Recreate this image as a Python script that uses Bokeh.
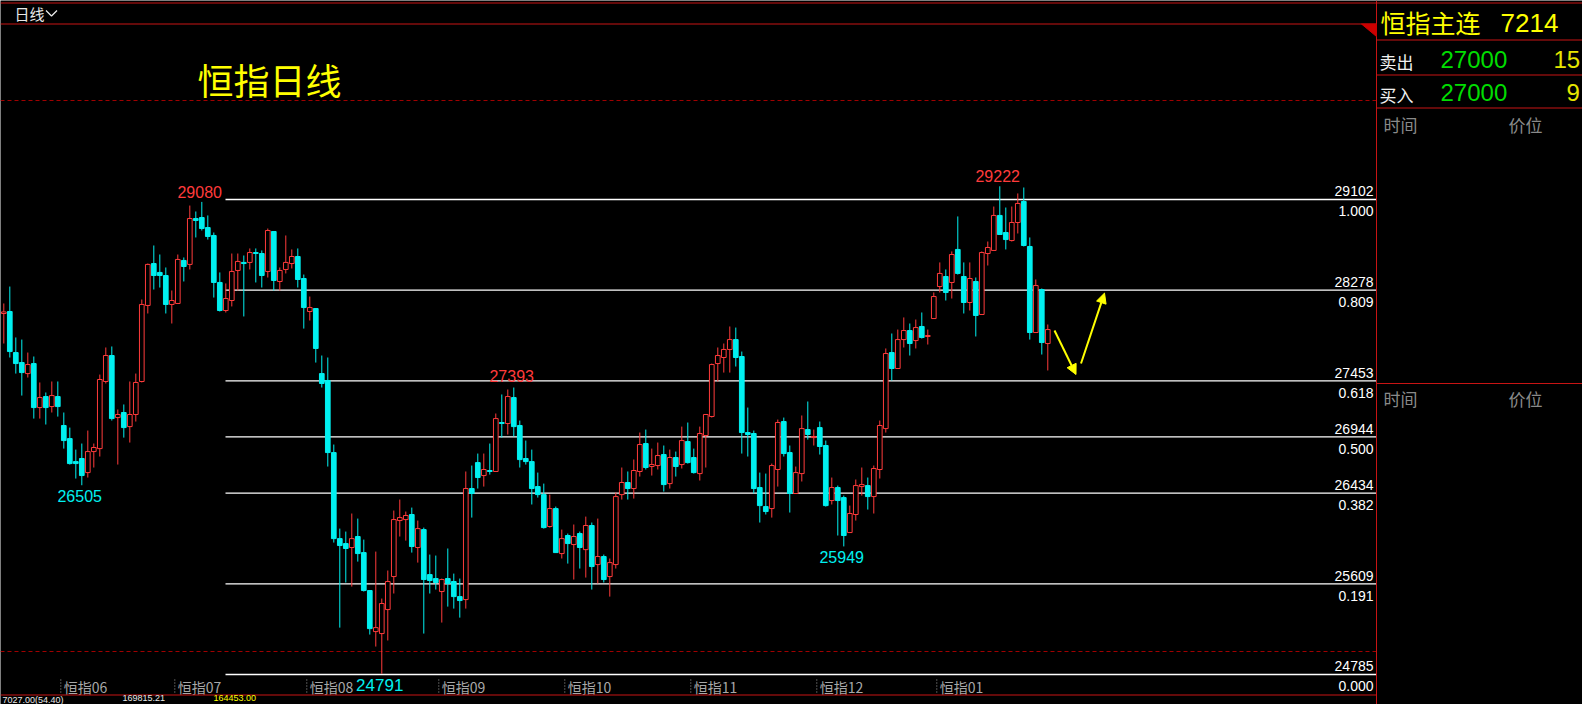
from bokeh.plotting import figure
from bokeh.models import Range1d, Arrow, NormalHead, ColumnDataSource
from bokeh.core.properties import value
from bokeh.embed import file_html
from bokeh.resources import INLINE

# ---------------- data ----------------
opens = [28066, 28084, 27711, 27620, 27520, 27611, 27211, 27311, 27220, 27311,
         27048, 26929, 26720, 26748, 26620, 26811, 26838, 27448, 27684, 27120,
         27166, 27038, 27148, 27448, 28139, 28520, 28439, 28411, 28148, 28157,
         28548, 28512, 28929, 28938, 28847, 28775, 28348, 28093, 28184, 28457,
         28530, 28530, 28620, 28611, 28448, 28811, 28357, 28466, 28520, 28584,
         28384, 28084, 28111, 27520, 27457, 26802, 26020, 25975, 25939, 26039,
         25893, 25548, 25175, 25157, 25375, 25675, 26184, 26193, 26239, 25939,
         26102, 25693, 25657, 25539, 25657, 25630, 25493, 25466, 26475, 26711,
         26593, 26639, 26630, 27075, 27066, 27302, 27048, 26748, 26720, 26493,
         26420, 26130, 26293, 25884, 26048, 25966, 26066, 25920, 26139, 25784,
         25857, 25675, 25784, 26420, 26530, 26475, 26630, 26884, 26675, 26684,
         26784, 26520, 26757, 26693, 26902, 26757, 26611, 26957, 27130, 27611,
         27666, 27739, 27829, 27675, 26984, 26975, 26484, 26311, 26293, 26648,
         27084, 26802, 26430, 26611, 27011, 26938, 27029, 26866, 26366, 26484,
         26393, 26075, 26239, 26493, 26502, 26402, 26648, 27020, 27711, 27566,
         27829, 27911, 27820, 27948, 27857, 28020, 28311, 28402, 28348, 28648,
         28402, 28166, 28357, 28057, 28611, 28639, 28957, 28802, 28729, 28893,
         29084, 28675, 27893, 28284, 27793]
highs = [28157, 28311, 27848, 27829, 27711, 27675, 27439, 27348, 27448, 27448,
         27166, 27029, 26829, 26884, 27002, 26884, 27511, 27757, 27766, 27193,
         27239, 27448, 27520, 28193, 28520, 28684, 28602, 28484, 28275, 28602,
         28575, 29047, 28993, 29080, 28957, 28802, 28439, 28339, 28611, 28611,
         28593, 28657, 28657, 28639, 28838, 28811, 28484, 28775, 28648, 28657,
         28420, 28220, 28111, 27684, 27666, 26875, 26111, 26084, 26248, 26202,
         26011, 25548, 25902, 25475, 25730, 26275, 26375, 26266, 26302, 26184,
         26120, 25875, 25866, 25657, 25930, 25702, 25657, 26630, 26684, 26793,
         26793, 26884, 27157, 27330, 27375, 27393, 27093, 26911, 26829, 26620,
         26520, 26420, 26311, 26102, 26066, 26148, 26084, 26220, 26166, 26202,
         25875, 25839, 26439, 26666, 26630, 26739, 26984, 27011, 26838, 26893,
         26866, 26829, 26811, 27038, 27075, 26838, 27038, 27148, 27611, 27757,
         27793, 27948, 27938, 27720, 27211, 27002, 26620, 26611, 26702, 27102,
         27120, 26866, 26675, 27139, 27266, 27011, 27084, 26911, 26575, 26502,
         26411, 26320, 26557, 26666, 26575, 26684, 27093, 27748, 27884, 27920,
         28030, 27975, 28011, 28075, 27920, 28257, 28530, 28466, 28630, 28948,
         28530, 28530, 28393, 28630, 28720, 29038, 29222, 29029, 29038, 29157,
         29211, 28757, 28375, 28293, 27966]
lows = [27793, 27666, 27520, 27320, 27484, 27111, 27111, 27057, 27166, 27129,
        26838, 26693, 26566, 26505, 26575, 26666, 26766, 27430, 27093, 26693,
        26938, 26893, 27084, 27439, 28066, 28284, 28302, 28066, 27975, 28157,
        28357, 28466, 28757, 28820, 28738, 28211, 28084, 28075, 28130, 28275,
        28039, 28466, 28348, 28302, 28393, 28275, 28275, 28430, 28475, 28302,
        27929, 28002, 27620, 27393, 26675, 25984, 25211, 25621, 25584, 25811,
        25539, 25148, 25039, 24791, 25094, 25521, 26039, 26002, 25893, 25802,
        25157, 25521, 25557, 25257, 25402, 25384, 25302, 25384, 26211, 26475,
        26493, 26602, 26630, 26938, 26966, 26948, 26666, 26693, 26330, 26393,
        26111, 26120, 25893, 25839, 25793, 25648, 25748, 25666, 25557, 25612,
        25621, 25493, 25748, 26375, 26375, 26384, 26584, 26648, 26593, 26648,
        26448, 26475, 26584, 26657, 26702, 26611, 26548, 26666, 27120, 27448,
        27529, 27529, 27584, 26793, 26766, 26430, 26166, 26239, 26211, 26493,
        26766, 26257, 26430, 26539, 26920, 26866, 26784, 26311, 26330, 26048,
        25949, 26075, 26184, 26411, 26284, 26248, 26566, 26984, 27457, 27566,
        27757, 27684, 27748, 27838, 27784, 28020, 28257, 28184, 28202, 28420,
        28066, 28093, 27857, 28057, 28502, 28639, 28784, 28648, 28720, 28793,
        28675, 27829, 27893, 27693, 27548]
closes = [28080, 27720, 27611, 27529, 27602, 27211, 27302, 27211, 27320, 27220,
          26911, 26702, 26702, 26593, 26811, 26848, 27466, 27684, 27111, 27148,
          27029, 27148, 27439, 28148, 28512, 28411, 28411, 28148, 28184, 28557,
          28493, 28929, 28911, 28838, 28766, 28348, 28093, 28202, 28448, 28539,
          28520, 28620, 28611, 28411, 28820, 28366, 28457, 28530, 28584, 28375,
          28120, 28120, 27748, 27430, 26802, 26020, 25957, 25930, 26020, 25884,
          25548, 25202, 25211, 25430, 25630, 26193, 26211, 26230, 25948, 26111,
          25648, 25639, 25621, 25648, 25612, 25493, 25457, 26475, 26430, 26575,
          26648, 26630, 27111, 27066, 27311, 27038, 26738, 26720, 26475, 26420,
          26120, 26293, 25893, 26020, 25975, 26039, 25939, 26139, 25766, 25857,
          25648, 25802, 26402, 26530, 26475, 26639, 26875, 26666, 26693, 26775,
          26511, 26757, 26675, 26911, 26711, 26620, 26975, 27148, 27602, 27684,
          27739, 27829, 27666, 26984, 26966, 26475, 26320, 26266, 26684, 27075,
          26793, 26430, 26620, 27020, 26966, 26948, 26857, 26320, 26484, 26366,
          26048, 26248, 26502, 26511, 26402, 26657, 27048, 27702, 27566, 27829,
          27911, 27793, 27938, 27848, 27866, 28220, 28430, 28257, 28602, 28430,
          28166, 28384, 28048, 28620, 28666, 28957, 28784, 28738, 28893, 29066,
          28684, 27893, 28320, 27802, 27920]

fib_prices = [29102, 28278, 27453, 26944, 26434, 25609, 24785]
fib_ratios = ["1.000", "0.809", "0.618", "0.500", "0.382", "0.191", "0.000"]

month_labels = ["恒指06", "恒指07", "恒指08", "恒指09", "恒指10", "恒指11", "恒指12", "恒指01"]
month_start = [11, 30, 52, 74, 95, 116, 137, 157]

high_marks = [34, 86, 167]     # candle numbers whose high is labelled
low_marks = [14, 141]          # candle numbers whose low is labelled
low_mark_big = [64]

# ---------------- figure ----------------
UP = "#ff3b3b"
DN = "#00f0f0"
RED = "#c81414"
N = len(opens)
idx = list(range(1, N + 1))

p = figure(width=1582, height=704, output_backend="svg", toolbar_location=None,
           x_range=Range1d(0.45, 264.12), y_range=Range1d(24512.3, 30910.6),
           x_axis_location=None, y_axis_location=None, min_border=0,
           background_fill_color="black", border_fill_color="black",
           outline_line_color=None)
p.grid.visible = False
p.extra_x_ranges = {"px": Range1d(0, 1582)}
p.extra_y_ranges = {"px": Range1d(704, 0)}

CJK = value("Noto Sans CJK SC")
NUM = value("'Liberation Sans Narrow', 'Liberation Sans', sans-serif")
SANS = value("Liberation Sans")

def ptext(x, y, t, color, size, font=CJK, align="left", baseline="middle"):
    p.text(x=[x], y=[y], text=[t], text_color=color, text_font_size=f"{size}px",
           text_font=font, text_align=align, text_baseline=baseline,
           x_range_name="px", y_range_name="px")

def pline(xs, ys, color=RED, width=1, dash="solid"):
    p.line(x=xs, y=ys, line_color=color, line_width=width, line_dash=dash,
           x_range_name="px", y_range_name="px")

# frame decorations
pline([0, 1376], [100, 100], "#a00000", 1, "4 3")
pline([0, 1376], [651, 651], "#a00000", 1, "4 3")

# fib lines
p.segment(x0=[225] * len(fib_prices), x1=[1376] * len(fib_prices), y0=fib_prices, y1=fib_prices,
          line_color="white", line_width=1.3, x_range_name="px")
p.text(x=[1373] * len(fib_prices), y=fib_prices, text=[str(v) for v in fib_prices],
       text_color="white", text_font_size="14px", text_font=NUM, text_align="right",
       text_baseline="alphabetic", y_offset=-8, x_range_name="px")
p.text(x=[1373] * len(fib_prices), y=fib_prices, text=fib_ratios,
       text_color="white", text_font_size="14px", text_font=NUM, text_align="right",
       text_baseline="alphabetic", y_offset=12, x_range_name="px")

# candles
tops, bots, cols, fills, bt = [], [], [], [], []
for o, c in zip(opens, closes):
    up = c >= o
    lo, hi = min(o, c), max(o, c)
    tops.append(hi)
    bots.append(lo)
    bt.append(max(hi, lo + 9))
    cols.append(UP if up else DN)
    fills.append("black" if up else DN)
src = ColumnDataSource(dict(x=idx, o=opens, h=highs, l=lows, c=closes,
                            top=tops, bot=bots, bt=bt, col=cols, fill=fills))
p.segment(x0="x", x1="x", y0="h", y1="top", line_color="col", line_width=1, source=src)
p.segment(x0="x", x1="x", y0="bot", y1="l", line_color="col", line_width=1, source=src)
p.vbar(x="x", width=0.78, top="bt", bottom="bot", fill_color="fill", line_color="col",
       line_width=1, source=src)

# high / low marks
p.text(x=[i - 0.35 for i in high_marks], y=[highs[i - 1] for i in high_marks],
       text=[str(highs[i - 1]) for i in high_marks], text_color=UP, text_font_size="16px",
       text_font=NUM, text_align="center", text_baseline="alphabetic",
       y_offset=[-10, -12, -10])
p.text(x=[i - 0.35 for i in low_marks], y=[lows[i - 1] for i in low_marks],
       text=[str(lows[i - 1]) for i in low_marks], text_color=DN, text_font_size="16px",
       text_font=NUM, text_align="center", text_baseline="top", y_offset=5)
p.text(x=[i - 0.35 for i in low_mark_big], y=[lows[i - 1] for i in low_mark_big],
       text=[str(lows[i - 1]) for i in low_mark_big], text_color=DN, text_font_size="17px",
       text_font=NUM, text_align="center", text_baseline="top", y_offset=5)

# month axis labels
mx = [m - 0.5 for m in month_start]
p.segment(x0=mx, x1=mx, y0=[679] * len(mx), y1=[694] * len(mx), line_color="#a0a0a0",
          line_width=1, line_dash="1 2", y_range_name="px")
p.text(x=mx, y=[686] * len(mx), text=month_labels, text_color="#a8a8a8", text_font_size="14px",
       text_font=CJK, text_align="left", text_baseline="middle", x_offset=3, y_range_name="px")

# top bar & frames
pline([0, 1582], [2.5, 2.5])
pline([0, 1376], [23.5, 23.5])
pline([0, 1376], [694.5, 694.5])
pline([1376, 1376], [0, 704])
for yy in [39.5, 74.5, 107.5, 383]:
    pline([1376, 1582], [yy, yy])
p.patch(x=[1361, 1376, 1376], y=[23.5, 23.5, 36], fill_color="#cc0000", line_color="#cc0000",
        x_range_name="px", y_range_name="px")

ptext(14, 12.5, "日线", "#e8e8e8", 15)
pline([45.5, 51, 56.5], [10, 15.5, 10], "#e8e8e8", 1.3)
ptext(197, 78, "恒指日线", "#ffff00", 36)

# right panel
ptext(1380, 21.5, "恒指主连", "#ffff00", 25)
ptext(1500, 22, "7214", "#ffff00", 26, SANS)
ptext(1379, 61, "卖出", "#f0f0f0", 17)
ptext(1440, 58.5, "27000", "#00dd00", 24, SANS)
ptext(1553, 58.5, "15", "#e6e600", 24, SANS)
ptext(1379, 94, "买入", "#f0f0f0", 17)
ptext(1440, 92, "27000", "#00dd00", 24, SANS)
ptext(1566, 92, "9", "#e6e600", 24, SANS)
ptext(1383, 124, "时间", "#8a8a8a", 17)
ptext(1508, 124, "价位", "#8a8a8a", 17)
ptext(1383, 398, "时间", "#8a8a8a", 17)
ptext(1508, 398, "价位", "#8a8a8a", 17)

# bottom info row
ptext(2, 694, "7027.00(54.40)", "#e8e8e8", 9, SANS, baseline="top")
ptext(122, 694, "169815.21", "#e8e8e8", 9, SANS, baseline="top")
ptext(213, 694, "164453.00", "#ffff00", 9, SANS, baseline="top")

# yellow arrows
for xs, ys, xe, ye in [(1054, 330, 1075.5, 374), (1080.5, 363, 1104, 292.6)]:
    p.add_layout(Arrow(x_start=xs, y_start=ys, x_end=xe, y_end=ye, x_range_name="px",
                       y_range_name="px", line_color="#ffff00", line_width=2,
                       end=NormalHead(size=10, fill_color="#ffff00", line_color="#ffff00")))

open("out.html", "w").write(file_html(p, INLINE))
